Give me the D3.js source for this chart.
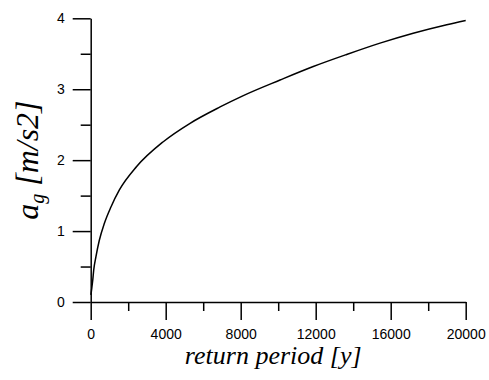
<!DOCTYPE html>
<html>
<head>
<meta charset="utf-8">
<script src="https://cdn.jsdelivr.net/npm/d3@7/dist/d3.min.js"></script>
<style>
  html, body { margin: 0; padding: 0; background: #fff; }
  svg { display: block; }
</style>
</head>
<body>
<svg id="chart" width="489" height="380"></svg>
<script>
// ---- data ----
const returnPeriod = [10, 60, 110, 160, 280, 460, 730, 1080, 1530, 2450, 3870, 5300, 6900, 8140, 10100, 11870, 13650, 15430, 17200, 18990, 20000];
const ag = [0.10, 0.20, 0.31, 0.45, 0.64, 0.87, 1.11, 1.34, 1.58, 1.91, 2.26, 2.52, 2.75, 2.91, 3.13, 3.32, 3.49, 3.65, 3.79, 3.91, 3.97];
const xMajorTicks = [0, 4000, 8000, 12000, 16000, 20000];
const xMinorTicks = [2000, 6000, 10000, 14000, 18000];
const yMajorTicks = [0, 1, 2, 3, 4];
const yMinorTicks = [0.5, 1.5, 2.5, 3.5];
const xTitle = "return period [y]";

// ---- layout ----
const svg = d3.select("#chart");
const mLeft = 90.7, mRight = 465.7, mTop = 18.3, mBottom = 302;

const x = d3.scaleLinear().domain([0, 20000]).range([mLeft, mRight]);
const y = d3.scaleLinear().domain([0, 4]).range([mBottom, mTop]);

const data = returnPeriod.map((t, i) => ({ t, a: ag[i] }));

// curve
svg.append("path")
  .datum(data)
  .attr("fill", "none")
  .attr("stroke", "#000")
  .attr("stroke-width", 1.5)
  .attr("d", d3.line().x(d => x(d.t)).y(d => y(d.a)).curve(d3.curveMonotoneX));

// x axis (major)
const gx = svg.append("g").attr("transform", `translate(0,${mBottom})`);
gx.call(d3.axisBottom(x).tickValues(xMajorTicks).tickSize(18).tickSizeOuter(0).tickFormat(d3.format("d")));
gx.selectAll("text").attr("y", 37).attr("dy", 0)
  .style("font-family", "'Liberation Sans', Arial, sans-serif").style("font-size", "14px").attr("fill", "#000");
// x minor
svg.append("g").attr("transform", `translate(0,${mBottom})`)
  .call(d3.axisBottom(x).tickValues(xMinorTicks).tickSize(9).tickFormat(""))
  .call(g => g.select(".domain").remove());

// y axis (major)
const gy = svg.append("g").attr("transform", `translate(${mLeft},0)`);
gy.call(d3.axisLeft(y).tickValues(yMajorTicks).tickSize(18).tickSizeOuter(0).tickPadding(8).tickFormat(d3.format("d")));
gy.selectAll("text")
  .style("font-family", "'Liberation Sans', Arial, sans-serif").style("font-size", "14px").attr("fill", "#000");
// y minor
svg.append("g").attr("transform", `translate(${mLeft},0)`)
  .call(d3.axisLeft(y).tickValues(yMinorTicks).tickSize(10).tickFormat(""))
  .call(g => g.select(".domain").remove());

svg.selectAll(".domain, .tick line").attr("stroke", "#000").attr("stroke-width", 1.5);

// x title
svg.append("text")
  .attr("x", (mLeft + mRight) / 2 - 5)
  .attr("y", 364)
  .attr("text-anchor", "middle")
  .style("font-family", "'Liberation Serif', 'Times New Roman', serif")
  .style("font-style", "italic")
  .style("font-size", "26px")
  .attr("fill", "#000")
  .text(xTitle);

// y title: a_g [m/s2]
const yt = svg.append("text")
  .attr("transform", `translate(38,${(mTop + mBottom) / 2}) rotate(-90)`)
  .attr("text-anchor", "middle")
  .style("font-family", "'Liberation Serif', 'Times New Roman', serif")
  .style("font-style", "italic")
  .style("font-size", "32px")
  .attr("fill", "#000");
yt.append("tspan").text("a");
yt.append("tspan").attr("dy", 6).style("font-size", "20px").text("g");
yt.append("tspan").attr("dy", -6).text(" [m/s2]");
</script>
</body>
</html>
